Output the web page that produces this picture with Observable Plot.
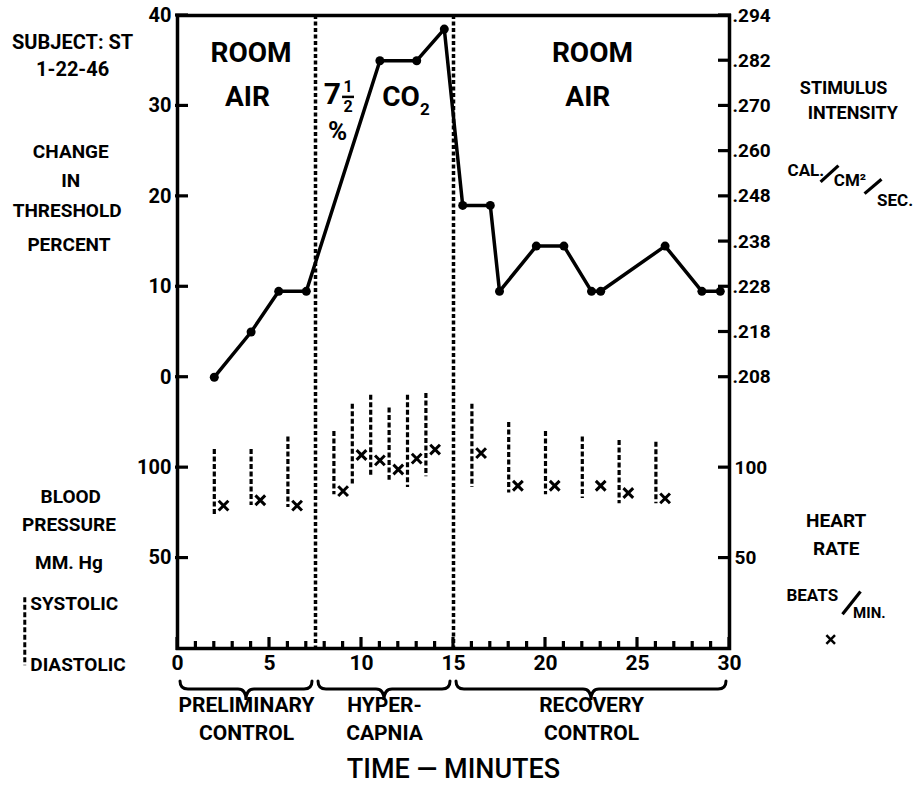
<!DOCTYPE html>
<html><head><meta charset="utf-8">
<script src="https://cdn.jsdelivr.net/npm/d3@7"></script>
<script src="https://cdn.jsdelivr.net/npm/@observablehq/plot@0.6"></script>
<style>
body{margin:0;background:#fff;}
</style></head><body><div id="chart"></div>
<script>
// ---- data ----
const thrTime = [2,4,5.5,7,11,13,14.5,15.5,17,17.5,19.5,21,22.5,23,26.5,28.5,29.5];
const thrPct  = [0,5,9.5,9.5,35,35,38.5,19,19,9.5,14.5,14.5,9.5,9.5,14.5,9.5,9.5];

const bpTime    = [2,4,6,8.5,9.5,10.5,11.5,12.5,13.5,16,18,20,22,24,26];
const systolic  = [110,110,117,120,135,140,133,140,141,135,125,120,117,115,114];
const diastolic = [73,79,78,85,91,95,93,89,95,89,86,85,83,80,80];

const hrTime = [2.5,4.5,6.5,9,10,11,12,13,14,16.5,18.5,20.5,23,24.5,26.5];
const hrRate = [79,82,79,87,107,104,99,105,110,108,90,90,90,86,83];

const phaseBounds = [7.5, 15];
const phaseStart = [0, 7.5, 15];
const phaseEnd   = [7.5, 15, 30];
const phaseLabel = ["PRELIMINARY\nCONTROL", "HYPER-\nCAPNIA", "RECOVERY\nCONTROL"];

const leftThrTicks = [0,10,20,30,40];
const bpTicks = [50,100];
const stimTicks = [0,5,10,15,20,25,30,35,40];
const stimLabels = [".208",".218",".228",".238",".248",".260",".270",".282",".294"];
const xMajor = [0,5,10,15,20,25,30];
const xMinor = d3.range(0,31,1);

// blood pressure / heart-rate scale shares the lower band of the threshold axis
const bpToY = v => v/5 - 30;

const thr = thrTime.map((t,i)=>({t, v: thrPct[i]}));
const bp = bpTime.map((t,i)=>({t, sys: systolic[i], dia: diastolic[i]}));
const hr = hrTime.map((t,i)=>({t, v: hrRate[i]}));
const phases = phaseStart.map((s,i)=>({s, e: phaseEnd[i], label: phaseLabel[i]}));

// ---- annotation layout (in chart units) ----
const centerNotes = [
  {x:-5.7,y:37.0,s:20,text:"SUBJECT: ST"},
  {x:-5.7,y:34.0,s:20,text:"1-22-46"},
  {x:-5.8,y:24.9,s:19,text:"CHANGE"},
  {x:-5.8,y:21.7,s:19,text:"IN"},
  {x:-6.0,y:18.4,s:19,text:"THRESHOLD"},
  {x:-5.9,y:14.6,s:19,text:"PERCENT"},
  {x:-5.8,y:-13.2,s:19,text:"BLOOD"},
  {x:-5.9,y:-16.3,s:19,text:"PRESSURE"},
  {x:-5.9,y:-20.5,s:19,text:"MM. Hg"},
  {x:36.2,y:32.0,s:18,text:"STIMULUS"},
  {x:36.7,y:29.2,s:18,text:"INTENSITY"},
  {x:34.15,y:22.9,s:17,text:"CAL."},
  {x:36.55,y:21.7,s:17,text:"CM²"},
  {x:39.0,y:19.5,s:17,text:"SEC."},
  {x:35.8,y:-15.9,s:19,text:"HEART"},
  {x:35.8,y:-19.0,s:19,text:"RATE"},
  {x:34.5,y:-24.1,s:17,text:"BEATS"},
  {x:37.6,y:-26.1,s:15,text:"MIN."},
  {x:4.0,y:35.9,s:28,text:"ROOM"},
  {x:3.8,y:31.0,s:28,text:"AIR"},
  {x:22.55,y:35.9,s:28,text:"ROOM"},
  {x:22.3,y:31.0,s:28,text:"AIR"},
  {x:8.42,y:31.3,s:30,text:"7"},
  {x:9.27,y:32.1,s:16,text:"1"},
  {x:9.27,y:29.85,s:16,text:"2"},
  {x:8.7,y:27.1,s:26,text:"%"},
  {x:12.15,y:31.0,s:28,text:"CO"},
  {x:13.45,y:29.6,s:17,text:"2"}
];
const startNotes = [
  {x:-8.0,y:-25.1,s:19,text:"SYSTOLIC"},
  {x:-8.0,y:-31.8,s:19,text:"DIASTOLIC"}
];
const fracBar = [{x1:8.97,x2:9.62,y:31.0}];
const slashes = [
  {x1:34.95,y1:21.6,x2:35.92,y2:23.4},
  {x1:37.34,y1:20.3,x2:38.26,y2:21.9},
  {x1:36.14,y1:-26.2,x2:37.12,y2:-23.7}
];
const bpKey = [{x:-8.3,y1:-24.4,y2:-31.9}];
const hrKey = [{x:35.5,y:-29.0}];

const FONT = "Roboto, 'Liberation Sans', 'DejaVu Sans', sans-serif";
const W = 919, H = 796, ML = 177, MR = 190, MT = 15, MB = 148;
const XDOM = [0,30], YDOM = [-30,40];
const yTickVals = [...leftThrTicks, ...bpTicks.map(bpToY)];
const yTickValsR = [...stimTicks, ...bpTicks.map(bpToY)];

// inward tick marks, positioned through Plot's own scales
function inwardTicks(index, scales, values, dim) {
  const L = dim.marginLeft, R = dim.width - dim.marginRight, B = dim.height - dim.marginBottom;
  const g = d3.create("svg:g").attr("stroke", "#000").attr("stroke-width", 3.2).attr("fill", "none");
  for (const v of yTickVals) { const y = scales.y(v); g.append("path").attr("d", `M${L - 2},${y}H${L + 11}`); }
  for (const v of yTickValsR) { const y = scales.y(v); g.append("path").attr("d", `M${R - 11},${y}H${R + 2}`); }
  for (const v of xMinor) { const x = scales.x(v); const len = xMajor.includes(v) ? 11 : 7; g.append("path").attr("d", `M${x},${B - len}V${B + 2}`); }
  return g.node();
}

function braces(index, scales, values, dim) {
  const g = d3.create("svg:g").attr("fill","none").attr("stroke","black").attr("stroke-width",3).attr("stroke-linecap","round");
  const y0 = dim.height - dim.marginBottom + 33;
  for (const p of phases) {
    const a = scales.x(p.s) + 3, b = scales.x(p.e) - 3, m = (a+b)/2;
    const y1 = y0 + 8, y2 = y0 + 19;
    g.append("path").attr("d",
      `M${a},${y0} Q${a},${y1} ${a+8},${y1} L${m-8},${y1} Q${m},${y1} ${m},${y2} Q${m},${y1} ${m+8},${y1} L${b-8},${y1} Q${b},${y1} ${b},${y0}`);
  }
  return g.node();
}

const chart = Plot.plot({
  width: W, height: H,
  marginLeft: ML, marginRight: MR, marginTop: MT, marginBottom: MB,
  x: {domain: XDOM},
  y: {domain: YDOM},
  style: {fontFamily: FONT, fontWeight: "bold", color: "black", background: "white", overflow: "visible"},
  marks: [
    // axis labels
    Plot.axisX({ticks: xMajor, tickSize: 0, tickPadding: 7, fontSize: 21, label: null}),
    Plot.axisY({anchor: "left", ticks: leftThrTicks, tickSize: 0, tickPadding: 6, fontSize: 20, label: null}),
    Plot.axisY({anchor: "left", ticks: bpTicks.map(bpToY), tickFormat: d => String(Math.round((d+30)*5)), tickSize: 0, tickPadding: 6, fontSize: 20, label: null}),
    Plot.axisY({anchor: "right", ticks: stimTicks, tickFormat: d => stimLabels[stimTicks.indexOf(d)], tickSize: 0, tickPadding: 3, fontSize: 19, label: null}),
    Plot.axisY({anchor: "right", ticks: bpTicks.map(bpToY), tickFormat: d => String(Math.round((d+30)*5)), tickSize: 0, tickPadding: 5, fontSize: 19, label: null}),
    Plot.frame({strokeWidth: 3.5, fill: "none"}),
    // phase separators
    Plot.ruleX(phaseBounds, {strokeWidth: 3.5, strokeDasharray: "4,2.5"}),
    // blood pressure
    Plot.ruleX(bp, {x: "t", y1: d => bpToY(d.sys), y2: d => bpToY(d.dia), strokeWidth: 3.2, strokeDasharray: "5,2.5"}),
    Plot.dot(hr, {x: "t", y: d => bpToY(d.v), symbol: "times", r: 4.5, strokeWidth: 3, stroke: "black"}),
    // threshold
    Plot.line(thr, {x: "t", y: "v", strokeWidth: 3.5}),
    Plot.dot(thr, {x: "t", y: "v", r: 4.5, fill: "black"}),
    // annotations
    Plot.text(centerNotes, {x: "x", y: "y", text: "text", fontSize: "s", fill: "black"}),
    Plot.text(startNotes, {x: "x", y: "y", text: "text", fontSize: "s", fill: "black", textAnchor: "start"}),
    Plot.ruleY(fracBar, {x1: "x1", x2: "x2", y: "y", strokeWidth: 2.5}),
    Plot.link(slashes, {x1: "x1", y1: "y1", x2: "x2", y2: "y2", strokeWidth: 3.2, stroke: "black"}),
    Plot.ruleX(bpKey, {x: "x", y1: "y1", y2: "y2", strokeWidth: 3, strokeDasharray: "5,2.5"}),
    Plot.dot(hrKey, {x: "x", y: "y", symbol: "times", r: 4, strokeWidth: 2.5, stroke: "black"}),
    braces,
    inwardTicks,
    Plot.text(phases, {x: d => (d.s+d.e)/2, frameAnchor: "bottom", dy: 69, text: "label", fontSize: 21, lineHeight: 1.33, lineAnchor: "middle", fill: "black"}),
    Plot.text(["TIME — MINUTES"], {frameAnchor: "bottom", dy: 129, fontSize: 27, fontWeight: 500, fill: "black"})
  ]
});
document.getElementById("chart").appendChild(chart);
</script>
</body></html>
